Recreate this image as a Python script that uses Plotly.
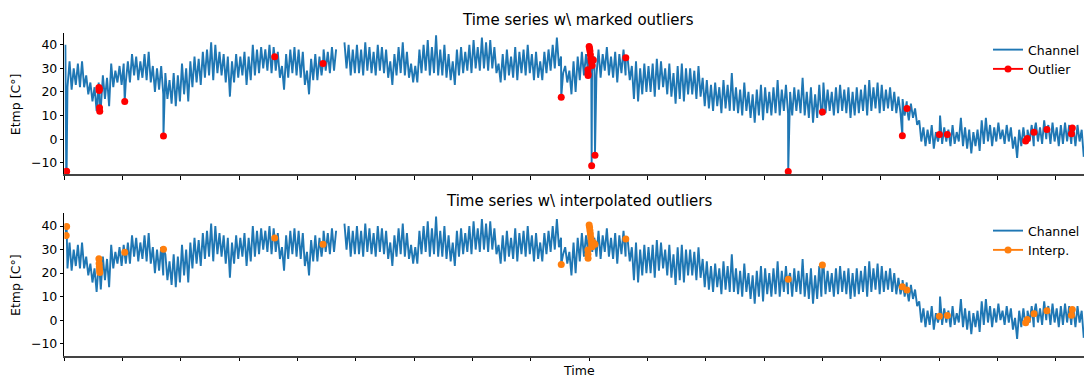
import numpy as np
import plotly.graph_objects as go

# Daily maxima / minima of the channel (°C); None marks missing samples
day_high = [
    40, 33, 30, 32, 33, 27, 24, 22, 24, 27,
    26, 32, 29, 31, 32, 33, 36, 35, 33, 36,
    37, 31, 30, 31, 28, 25, 28, 27, 32, 30,
    33, 35, 34, 37, 38, 41, 40, 37, 36, 35,
    33, 36, 35, 37, 35, 40, 38, 39, 38, 40,
    39, 37, 31, 36, 38, 39, 38, 37, 29, 34,
    36, 35, 38, 37, 39, 38, None, 41, 40, 38,
    40, 38, 41, 39, 37, 40, 39, 38, 33, 36,
    39, 41, 37, 32, 31, 38, 40, 42, 39, 44,
    38, 40, 36, 33, 38, 39, 37, 40, 42, 39,
    43, 41, 42, 39, 32, 36, 38, 35, 39, 37,
    38, 40, 36, 37, 33, 37, 38, 40, 43, 35,
    31, 29, 33, 35, 37, 36, 38, 35, 38, 36,
    39, 35, 37, 36, 38, 34, 31, 33, 30, 32,
    31, 32, 34, 33, 30, 32, 28, 31, 32, 30,
    30, 29, 31, 26, 25, 23, 24, 22, 25, 23,
    28, 22, 21, 24, 20, 19, 21, 23, 22, 20,
    22, 25, 21, 23, 20, 22, 21, 26, 20, 22,
    19, 23, 24, 21, 20, 22, 23, 21, 22, 20,
    22, 21, 23, 25, 22, 24, 23, 21, 22, 20,
    18, 17, 16, 15, 13, 8, 5, 4, 6, 3,
    10, 5, 4, 6, 3, 9, 5, 4, 3, 4,
    8, 9, 6, 5, 7, 4, 6, 5, 1, 4,
    5, 4, 6, 7, 5, 8, 6, 7, 5, 6,
    7, 6, 5, 6, 4,
]
day_low = [
    22, 21, 23, 22, 22, 19, 16, 12, 13, 17,
    14, 22, 24, 23, 24, 24, 27, 25, 26, 25,
    24, 20, 21, 19, 17, 15, 14, 16, 19, 16,
    22, 24, 23, 26, 27, 25, 28, 27, 24, 18,
    24, 26, 27, 23, 25, 27, 28, 30, 29, 28,
    29, 26, 21, 26, 28, 27, 26, 23, 19, 25,
    25, 27, 29, 28, 29, None, None, 30, 27, 28,
    28, 27, 29, 28, 27, 29, 28, 26, 23, 27,
    28, 27, 26, 24, 24, 28, 29, 27, 28, 27,
    27, 26, 25, 23, 27, 28, 29, 28, 30, 29,
    30, 29, 30, 28, 24, 25, 27, 26, 25, 28,
    27, 28, 25, 26, 25, 28, 29, 30, 31, 28,
    24, 19, 20, 25, 27, 26, 29, 27, 26, 29,
    27, 26, 24, 28, 27, 25, 17, 16, 19, 20,
    20, 18, 21, 22, 19, 18, 15, 17, 16, 19,
    19, 17, 18, 14, 13, 12, 14, 11, 13, 12,
    12, 11, 10, 12, 9, 7, 10, 8, 11, 10,
    11, 10, 12, 11, 10, 12, 11, 10, 9, 7,
    9, 10, 11, 12, 10, 11, 12, 11, 9, 10,
    11, 12, 10, 12, 13, 11, 12, 13, 12, 11,
    11, 10, 8, 9, 6, -1, -3, -2, -4, -1,
    -2, -1, -3, -2, -1, -3, -4, -6, -3, -5,
    -2, -1, -3, -1, 0, -2, -1, -4, -8, -3,
    -2, -1, -3, -1, -2, 0, -2, -1, -3, -2,
    -1, -2, -3, -1, -7.5,
]

# Flagged samples: time (days), raw reading, interpolated replacement
outlier_time = [
    0.45, 0.55,
    8.30, 8.35, 8.40, 8.45, 8.50,
    14.5, 23.8, 50.5, 62.1, 119.3,
    125.70, 125.72, 125.74, 126.00, 126.10, 126.20, 126.30, 126.40,
    126.50, 126.60, 126.70, 127.00, 127.40,
    134.8, 173.8, 182.0, 201.2, 202.3, 210.1, 212.0,
    230.8, 231.2, 232.8, 235.9, 241.8, 242.0,
]
outlier_raw = [
    -13.7, -13.6,
    21.9, 20.6, 21.2, 13.3, 11.8,
    16.0, 1.3, 34.9, 32.1, 17.7,
    29.4, 27.8, 27.0, 39.2, 38.4, 37.3, 35.8, 34.2,
    32.8, -11.3, 31.2, 33.5, -6.8,
    34.5, -13.7, 11.5, 1.4, 13.0, 2.0, 2.0,
    -0.8, 0.3, 2.9, 4.1, 2.3, 4.7,
]
outlier_interp = [
    36.0, 39.8,
    26.1, 24.1, 22.7, 21.3, 20.3,
    28.8, 30.1, 34.9, 32.2, 23.7,
    29.8, 28.0, 26.3, 40.4, 39.4, 38.0, 36.6, 35.0,
    33.5, 32.0, 31.2, 33.0, 32.2,
    34.5, 17.4, 23.4, 14.2, 12.8, 1.7, 2.0,
    -1.1, 0.3, 2.7, 4.0, 2.1, 4.5,
]

tick_days = list(range(0, 245, 14))
y_ticks = [-10, 0, 10, 20, 30, 40]

BLUE = "#1f77b4"
RED = "#ff0000"
ORANGE = "#ff7f0e"
FONT = "DejaVu Sans"
W, H = 1085, 380
LW = 1.9

# Interleave daily max/min into one time series
n_days = len(day_high)
idx = np.arange(n_days)
t_base = np.column_stack([idx + 0.25, idx + 0.75]).ravel()
y_base = np.column_stack([np.array(day_high, dtype=float),
                          np.array(day_low, dtype=float)]).ravel()


def merge(values):
    """Insert the flagged samples into the base series, ordered by time."""
    t = np.concatenate([t_base, np.array(outlier_time, dtype=float)])
    y = np.concatenate([y_base, np.array(values, dtype=float)])
    order = np.argsort(t, kind="stable")
    return t[order], y[order]


t_raw, y_raw = merge(outlier_raw)
t_fix, y_fix = merge(outlier_interp)

fig = go.Figure()


def add_panel(t, y, mark_vals, mark_name, color, xa, ya, leg):
    fig.add_trace(go.Scatter(x=t, y=y, mode="lines", name="Channel",
                             line=dict(color=BLUE, width=LW),
                             xaxis=xa, yaxis=ya, legend=leg))
    fig.add_trace(go.Scatter(x=outlier_time, y=mark_vals, mode="markers",
                             name=mark_name, showlegend=False,
                             marker=dict(color=color, size=7),
                             xaxis=xa, yaxis=ya))
    # legend entry drawn as line + marker
    fig.add_trace(go.Scatter(x=[None], y=[None], mode="lines+markers",
                             name=mark_name,
                             line=dict(color=color, width=LW),
                             marker=dict(color=color, size=7),
                             xaxis=xa, yaxis=ya, legend=leg))


add_panel(t_raw, y_raw, outlier_raw, "Outlier", RED, "x", "y", "legend")
add_panel(t_fix, y_fix, outlier_interp, "Interp.", ORANGE, "x2", "y2", "legend2")

x_dom = [64.4 / W, 1.0]
x_range = [0, (W - 64.4) / 4.169]

xcommon = dict(domain=x_dom, range=x_range, tickvals=tick_days,
               showticklabels=False, ticks="outside", ticklen=3.5,
               tickwidth=1, tickcolor="black", showline=True,
               linecolor="#444", linewidth=1.6, showgrid=False, zeroline=False)
ycommon = dict(tickvals=y_ticks, ticks="outside", ticklen=3.5, tickwidth=1,
               tickcolor="black", showline=True, linecolor="black",
               linewidth=1, showgrid=False, zeroline=False,
               tickfont=dict(family=FONT, size=12.5, color="black"))


def py(px):
    return 1 - px / H


legend_style = dict(xanchor="left", yanchor="top", bgcolor="rgba(0,0,0,0)",
                    font=dict(family=FONT, size=12.5, color="black"),
                    itemwidth=30, tracegroupgap=0)

fig.update_layout(
    width=W, height=H,
    margin=dict(l=0, r=0, t=0, b=0),
    paper_bgcolor="white", plot_bgcolor="white",
    font=dict(family=FONT, size=12.5, color="black"),
    xaxis=dict(anchor="y", **xcommon),
    yaxis=dict(anchor="x", domain=[py(174.3), py(32.7)], range=[-14.9, 45.1], **ycommon),
    xaxis2=dict(anchor="y2", matches="x", **xcommon),
    yaxis2=dict(anchor="x2", domain=[py(355.7), py(213.3)], range=[-15.1, 45.4], **ycommon),
    legend=dict(x=989 / W, y=py(35), **legend_style),
    legend2=dict(x=989 / W, y=py(216), **legend_style),
    showlegend=True,
)

annotations = [
    dict(text="Time series w\\ marked outliers", x=578.9 / W, y=py(19.7),
         yanchor="middle", font=dict(size=15)),
    dict(text="Time series w\\ interpolated outliers", x=579.2 / W, y=py(200.8),
         yanchor="middle", font=dict(size=15)),
    dict(text="Time", x=579.6 / W, y=0.0, yanchor="bottom", font=dict(size=12.5)),
    dict(text="Etmp [C°]", x=15.5 / W, y=py(103.7), yanchor="middle",
         textangle=-90, font=dict(size=12.5)),
    dict(text="Etmp [C°]", x=15.5 / W, y=py(284.5), yanchor="middle",
         textangle=-90, font=dict(size=12.5)),
]
for a in annotations:
    fig.add_annotation(xref="paper", yref="paper", showarrow=False,
                       xanchor="center", **a)

fig.write_html("out.html")
